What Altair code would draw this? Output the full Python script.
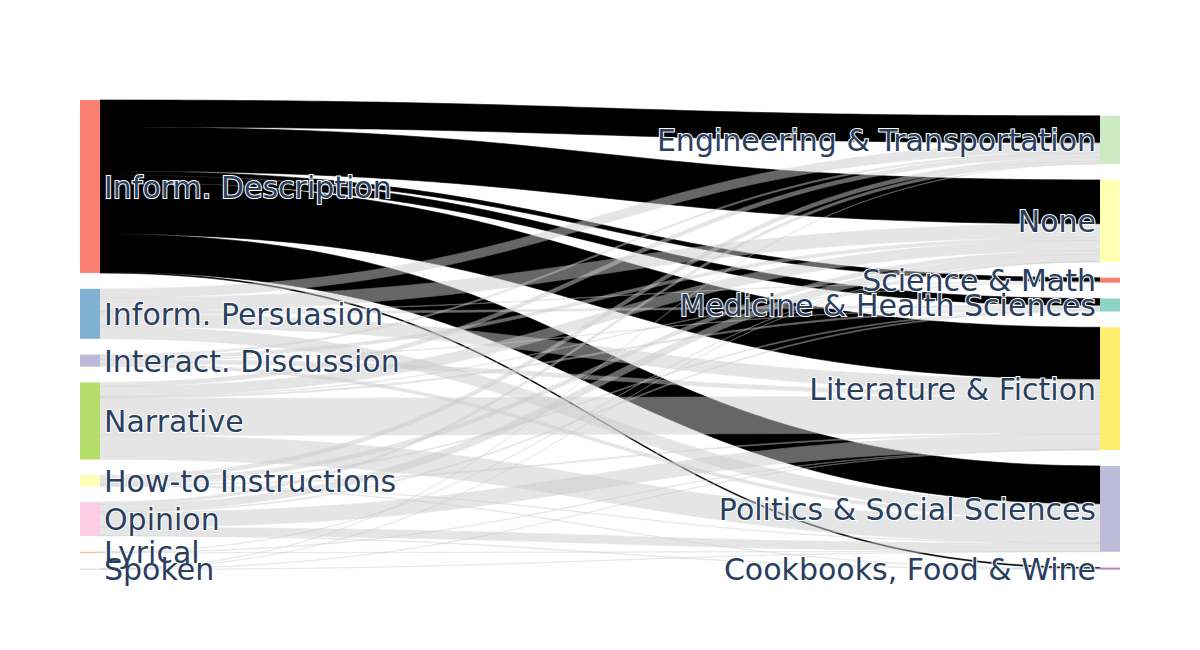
import altair as alt
import pandas as pd
import numpy as np

# ---- data ----
left_nodes = ["Inform. Description", "Inform. Persuasion", "Interact. Discussion", "Narrative",
              "How-to Instructions", "Opinion", "Lyrical", "Spoken"]
left_colors = ["#fb8072", "#80b1d3", "#bebada", "#b3de69", "#ffffb3", "#fccde5", "#fdb462", "#d9d9d9"]

right_nodes = ["Engineering & Transportation", "None", "Science & Math", "Medicine & Health Sciences",
               "Literature & Fiction", "Politics & Social Sciences", "Cookbooks, Food & Wine"]
right_colors = ["#ccebc5", "#ffffb3", "#fb8072", "#8dd3c7", "#ffed6f", "#bebada", "#bc80bd"]

# flows from each left node to the right nodes (in right_nodes order)
flows_description = [27, 44, 4, 7, 52, 38, 1]
flows_persuasion = [9, 13.5, 0.5, 2, 13, 12, 0]
flows_discussion = [1.5, 3, 0, 0.5, 4, 3, 0]
flows_narrative = [4, 10, 0.5, 1.5, 37, 24, 0]
flows_howto = [4, 4, 0, 1, 1, 0.5, 0.5]
flows_opinion = [2.5, 7, 0, 1, 15, 8, 0.5]
flows_lyrical = [0, 0.3, 0, 0, 0.5, 0.2, 0]
flows_spoken = [0.3, 0.2, 0, 0, 0.3, 0.2, 0]

flows = [flows_description, flows_persuasion, flows_discussion, flows_narrative,
         flows_howto, flows_opinion, flows_lyrical, flows_spoken]
highlight_source = "Inform. Description"

# ---- layout (data units) ----
W = 1040
H = 470
NODE_W = 20
GAP = 15.8

left_tot = [sum(r) for r in flows]
right_tot = [sum(flows[i][j] for i in range(len(flows))) for j in range(len(right_nodes))]

left_y = []
y = 0
for v in left_tot:
    left_y.append(y)
    y += v + GAP
bottom = y - GAP
right_y = []
y = bottom - (sum(right_tot) + GAP * (len(right_nodes) - 1))
for v in right_tot:
    right_y.append(y)
    y += v + GAP

nodes = []
for n, c, y0, v in zip(left_nodes, left_colors, left_y, left_tot):
    nodes.append(dict(name=n, color=c, x=0, x2=NODE_W, y=y0, y2=y0 + v,
                      ly=y0 + v / 2, lx=NODE_W + 4, side="L"))
for n, c, y0, v in zip(right_nodes, right_colors, right_y, right_tot):
    nodes.append(dict(name=n, color=c, x=W - NODE_W, x2=W, y=y0, y2=y0 + v,
                      ly=y0 + v / 2, lx=W - NODE_W - 4, side="R"))
nodes_df = pd.DataFrame(nodes)

# link band offsets
src_off = list(left_y)
tgt_off = list(right_y)
bands = {}
for i in range(len(flows)):
    for j in range(len(right_nodes)):
        v = flows[i][j]
        if v > 0:
            bands[(i, j)] = [src_off[i], 0, 0, v]
            src_off[i] += v
for j in range(len(right_nodes)):
    for i in range(len(flows)):
        v = flows[i][j]
        if v > 0:
            bands[(i, j)][1] = tgt_off[j]
            tgt_off[j] += v

ts = np.linspace(0, 1, 80)
x0, x1 = NODE_W, W - NODE_W
rows = []
k = 0
for i in range(len(flows)):
    for j in range(len(right_nodes)):
        if (i, j) not in bands:
            continue
        s0, t0, _, v = bands[(i, j)]
        hl = left_nodes[i] == highlight_source
        for idx, t in enumerate(ts):
            xt = x0 + (x1 - x0) * (1.5 * t * (1 - t) + t ** 3)
            f = 3 * t ** 2 - 2 * t ** 3
            top = s0 + (t0 - s0) * f
            rows.append(dict(link=f"L{k:03d}", step=idx, px=float(xt), ytop=float(top),
                             ybot=float(top + v), grp="hl" if hl else "base",
                             op=1.0 if hl else 0.5))
        k += 1
links_df = pd.DataFrame(rows)

xs = alt.Scale(domain=[0, W], nice=False, zero=False)
ys = alt.Scale(domain=[0, H], reverse=True, nice=False, zero=False)
link_scale = alt.Scale(domain=["hl", "base"], range=["#000000", "#cccccc"])

links = alt.Chart(links_df).mark_area(strokeWidth=0.6).encode(
    x=alt.X("px:Q", scale=xs, axis=None),
    y=alt.Y("ytop:Q", scale=ys, axis=None, stack=None),
    y2="ybot:Q",
    detail="link:N",
    color=alt.Color("grp:N", scale=link_scale, legend=None),
    stroke=alt.Stroke("grp:N", scale=link_scale, legend=None),
    opacity=alt.Opacity("op:Q", scale=None),
)

node_rects = alt.Chart(nodes_df).mark_rect().encode(
    x=alt.X("x:Q", scale=xs, axis=None), x2="x2:Q",
    y=alt.Y("y:Q", scale=ys, axis=None), y2="y2:Q",
    color=alt.Color("color:N", scale=None),
)

font = "DejaVu Sans"
fs = 30
txt_col = "#2a3f5f"
left_df = nodes_df[nodes_df.side == "L"]
right_df = nodes_df[nodes_df.side == "R"]


def labels(df, align):
    base = alt.Chart(df).encode(
        x=alt.X("lx:Q", scale=xs, axis=None),
        y=alt.Y("ly:Q", scale=ys, axis=None),
        text="name:N",
    )
    halo = base.mark_text(align=align, baseline="middle", dy=2, font=font, fontSize=fs,
                          stroke="white", strokeWidth=2, fill="white")
    main = base.mark_text(align=align, baseline="middle", dy=2, font=font, fontSize=fs, fill=txt_col)
    return halo + main


chart = alt.layer(
    links, node_rects, labels(left_df, "left"), labels(right_df, "right")
).resolve_scale(color="independent").properties(
    width=W, height=H,
    autosize=alt.AutoSizeParams(type="none"),
    padding={"left": 72, "top": 92, "right": 72, "bottom": 70},
).configure_view(stroke=None)

chart.save("out.html", embed_options={"renderer": "svg", "actions": False})
